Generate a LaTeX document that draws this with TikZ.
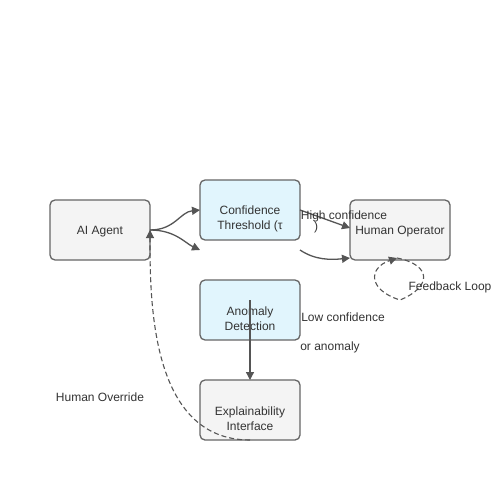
\documentclass[tikz,border=0pt]{standalone}
\usepackage{fontspec}
\setmainfont{Liberation Sans}
\usetikzlibrary{arrows.meta}
\definecolor{boxgray}{HTML}{F4F4F4}
\definecolor{boxblue}{HTML}{E1F5FD}
\definecolor{edgegray}{HTML}{666666}
\definecolor{linegray}{HTML}{555555}
\definecolor{txt}{HTML}{333333}
\begin{document}
\begin{tikzpicture}[x=1pt,y=-1pt,
  font=\fontsize{12}{15}\selectfont,
  box/.style={draw=edgegray,line width=1.3pt,rounded corners=5pt,minimum width=100pt,minimum height=60pt,inner sep=0pt},
  gbox/.style={box,fill=boxgray},
  bbox/.style={box,fill=boxblue},
  conn/.style={draw=linegray,line width=1.3pt,-{Triangle[length=8pt,width=8pt]}},
  dconn/.style={conn,dashed,line width=1.1pt,dash pattern=on 5pt off 3pt},
  lbl/.style={text=txt,inner sep=0pt,align=center}]
\useasboundingbox[fill=white] (0,0) rectangle (500,500);
\node[gbox] (agent) at (100,230) {};
\node[bbox] (thr) at (250,210) {};
\node[gbox] (op) at (400,230) {};
\node[bbox] (anom) at (250,310) {};
\node[gbox] (expl) at (250,410) {};
\node[lbl] (agentT) at (100,231.5) {AI Agent};
\node[lbl] (thrT) at (250,219) {Confidence\\Threshold (τ};
\node[lbl] (opT) at (400,231.5) {Human Operator};
\node[lbl] (anomT) at (250,319) {Anomaly\\Detection};
\node[lbl] (explT) at (250,419) {Explainability\\Interface};
\coordinate (a1) at (150,230);
\coordinate (t1) at (200,210);
\coordinate (t2) at (200,250);
\coordinate (t3) at (300,210);
\coordinate (t4) at (300,250);
\coordinate (o1) at (350,228);
\coordinate (o2) at (350,258);
\coordinate (ob) at (397,258);
\coordinate (ac) at (250,300);
\coordinate (et) at (250,380);
\coordinate (eb) at (250,440);
\draw[conn] (a1) .. controls (175,230) and (180,212) .. (t1);
\draw[conn] (a1) .. controls (175,230) and (185,243) .. (t2);
\draw[conn] (t3) -- (o1);
\draw[conn] (t4) .. controls (315,260) and (330,260) .. (o2);
\draw[dconn] (ob) .. controls (432,265) and (432,287) .. (400,300) .. controls (368,290) and (368,268) .. (ob);
\draw[conn] (ac) -- (et);
\draw[dconn] (eb) .. controls (150,440) and (150,300) .. (a1);
\node[lbl] (hc) at (344,216) {High confidence};
\node[lbl] (hp) at (316,227) {)};
\node[lbl] (lc) at (343,317) {Low confidence};
\node[lbl] (oa) at (330,347) {or anomaly};
\node[lbl] (fl) at (450,287) {Feedback Loop};
\node[lbl] (ho) at (100,397) {Human Override};
\end{tikzpicture}
\end{document}
